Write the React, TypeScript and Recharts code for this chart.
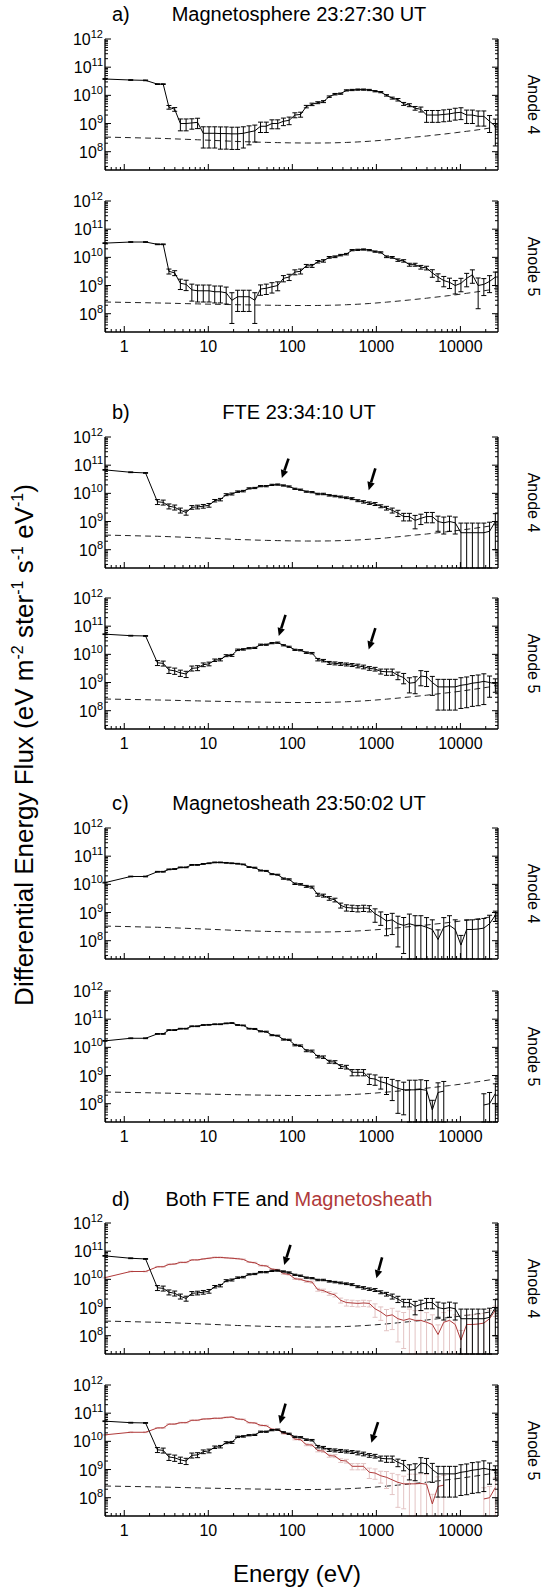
import React from 'react';
import { LineChart, Line, XAxis, YAxis, ErrorBar, ReferenceLine } from 'recharts';

// Cassini CAPS ELS energy channels (eV)
const energy = [
  0.59, 1.194, 1.793, 2.483, 2.906, 3.402, 3.98, 4.655, 5.444, 6.372,
  7.453, 8.715, 10.2, 11.93, 13.95, 16.32, 19.09, 22.34, 26.13, 30.57,
  35.76, 41.83, 48.94, 57.25, 66.97, 78.34, 91.64, 107.2, 125.4, 146.7,
  171.6, 200.8, 234.9, 274.8, 321.5, 376, 439.9, 514.5, 602, 704.4,
  824.1, 964.2, 1128, 1319, 1544, 1805, 2112, 2471, 2890, 3383,
  3956, 4630, 5416, 6336, 7415, 8674, 10143, 11867, 13876, 16256,
  18991, 22227, 26040,
];

// a) magnetosphere
const fluxA4 = [
  3.8e10, 3.5e10, 3.4e10, 2.5e10, 2.5e10, 3.8e9, 3.2e9, 1.0e9, 1.0e9, 1.05e9,
  1.1e9, 4.5e8, 4.5e8, 4.5e8, 4.4e8, 4.4e8, 4.3e8, 4.3e8, 4.5e8, 5e8,
  5.5e8, 8e8, 8e8, 1e9, 1e9, 1.2e9, 1.3e9, 2e9, 2.1e9, 4e9,
  4.8e9, 5.5e9, 6e9, 9e9, 1.1e10, 1.15e10, 1.5e10, 1.55e10, 1.6e10, 1.6e10,
  1.55e10, 1.4e10, 1.3e10, 1e10, 8e9, 7e9, 5e9, 4.5e9, 3.5e9, 3.2e9,
  2e9, 2e9, 2e9, 2.1e9, 2.2e9, 2.4e9, 2.5e9, 2e9, 2e9, 1.8e9,
  1.8e9, 1.2e9, 8e8,
];
const errA4 = [
  0.03, 0.03, 0.03, 0.03, 0.03, 0.15, 0.15, 0.45, 0.45, 0.4,
  0.4, 0.7, 0.7, 0.7, 0.72, 0.72, 0.72, 0.72, 0.7, 0.65,
  0.6, 0.4, 0.4, 0.35, 0.35, 0.3, 0.3, 0.2, 0.2, 0.1,
  0.1, 0.08, 0.08, 0.06, 0.06, 0.05, 0.05, 0.05, 0.05, 0.05,
  0.05, 0.05, 0.05, 0.06, 0.08, 0.1, 0.12, 0.12, 0.15, 0.2,
  0.45, 0.45, 0.45, 0.45, 0.45, 0.45, 0.45, 0.5, 0.5, 0.55,
  0.55, 0.6, 0.8,
];
const fluxA5 = [
  3.2e10, 3.5e10, 3.5e10, 2.9e10, 2.9e10, 3.2e9, 2.8e9, 1.2e9, 1.1e9, 7e8,
  6.5e8, 6.5e8, 6.5e8, 6e8, 6e8, 5.5e8, 3e8, 4e8, 4e8, 4e8,
  3e8, 7.5e8, 8e8, 9e8, 1e9, 1.8e9, 2e9, 3e9, 3.2e9, 5e9,
  5e9, 7e9, 7.5e9, 1e10, 1.05e10, 1.2e10, 1.3e10, 1.8e10, 1.85e10, 1.9e10,
  1.8e10, 1.6e10, 1.5e10, 1.05e10, 1e10, 8e9, 7.5e9, 5.5e9, 5.5e9, 4.5e9,
  4.2e9, 2.8e9, 2e9, 1.5e9, 1.3e9, 1e9, 1.2e9, 1.8e9, 2.4e9, 1e9,
  1.1e9, 1.4e9, 2e9,
];
const errA5 = [
  0.03, 0.03, 0.03, 0.03, 0.03, 0.2, 0.2, 0.4, 0.4, 0.6,
  0.6, 0.6, 0.6, 0.6, 0.6, 0.6, 0.85, 0.7, 0.7, 0.7,
  0.85, 0.4, 0.4, 0.4, 0.35, 0.25, 0.25, 0.2, 0.2, 0.12,
  0.12, 0.1, 0.1, 0.07, 0.07, 0.06, 0.06, 0.05, 0.05, 0.05,
  0.05, 0.05, 0.05, 0.07, 0.07, 0.1, 0.1, 0.12, 0.12, 0.15,
  0.15, 0.3, 0.3, 0.4, 0.4, 0.5, 0.5, 0.5, 0.5, 0.85,
  0.6, 0.6, 0.5,
];

// b) FTE
const fluxB4 = [
  6.8e10, 5.6e10, 5.3e10, 5e9, 4.8e9, 3.5e9, 3.2e9, 2.5e9, 2.1e9, 3.2e9,
  3.3e9, 3.5e9, 3.8e9, 5.5e9, 6e9, 9e9, 9.5e9, 1.15e10, 1.2e10, 1.5e10,
  1.55e10, 1.8e10, 1.8e10, 2e10, 2.05e10, 1.9e10, 1.75e10, 1.45e10, 1.35e10, 1.15e10,
  1.1e10, 9.5e9, 9.5e9, 8.5e9, 8e9, 7.5e9, 7e9, 6.5e9, 5.5e9, 5e9,
  4.5e9, 4.2e9, 3.5e9, 3e9, 2.5e9, 2e9, 1.5e9, 1.5e9, 1.1e9, 1.3e9,
  1.5e9, 1.5e9, 1e9, 9e8, 1e9, 9e8, 4e8, 4e8, 4e8, 4e8,
  4e8, 4.5e8, 1e9,
];
const errB4 = [
  0.03, 0.03, 0.03, 0.2, 0.2, 0.2, 0.2, 0.2, 0.2, 0.15,
  0.15, 0.15, 0.15, 0.1, 0.1, 0.08, 0.08, 0.06, 0.06, 0.05,
  0.05, 0.05, 0.05, 0.05, 0.05, 0.05, 0.05, 0.05, 0.05, 0.05,
  0.05, 0.06, 0.06, 0.06, 0.06, 0.07, 0.07, 0.08, 0.08, 0.1,
  0.1, 0.12, 0.12, 0.15, 0.2, 0.25, 0.3, 0.3, 0.5, 0.4,
  0.4, 0.4, 0.55, 0.6, 0.55, 0.6, 1.2, 1.2, 1.2, 1.2,
  1.2, 1.1, 0.9,
];
const fluxB5 = [
  5.2e10, 4.6e10, 4.5e10, 5e9, 4.8e9, 2.8e9, 2.6e9, 2.2e9, 2e9, 3.2e9,
  3.3e9, 4.3e9, 4.6e9, 6.2e9, 6.5e9, 9e9, 9.2e9, 1.45e10, 1.5e10, 1.65e10,
  1.7e10, 2.2e10, 2.2e10, 2.5e10, 2.6e10, 2.1e10, 1.85e10, 1.45e10, 1.4e10, 1.15e10,
  1.1e10, 6.5e9, 6e9, 5e9, 4.8e9, 4.6e9, 4.4e9, 4.2e9, 3.9e9, 3.6e9,
  3.2e9, 3e9, 2.5e9, 2.4e9, 2.4e9, 1.8e9, 1.5e9, 9.5e8, 1e9, 1.7e9,
  1.6e9, 1e9, 7e8, 7e8, 7e8, 7e8, 8e8, 8.5e8, 9.5e8, 1e9,
  1.1e9, 1e9, 9e8,
];
const errB5 = [
  0.03, 0.03, 0.03, 0.2, 0.2, 0.25, 0.25, 0.25, 0.25, 0.2,
  0.2, 0.15, 0.15, 0.1, 0.1, 0.08, 0.08, 0.06, 0.06, 0.05,
  0.05, 0.05, 0.05, 0.05, 0.05, 0.05, 0.05, 0.05, 0.05, 0.06,
  0.06, 0.1, 0.1, 0.12, 0.12, 0.12, 0.12, 0.12, 0.15, 0.15,
  0.15, 0.15, 0.2, 0.25, 0.25, 0.3, 0.4, 0.55, 0.6, 0.55,
  0.55, 0.65, 0.85, 0.85, 0.85, 0.85, 0.85, 0.85, 0.85, 0.85,
  0.85, 0.7, 0.5,
];

// c) magnetosheath
const fluxC4 = [
  1.15e10, 1.9e10, 1.9e10, 2.8e10, 2.8e10, 3.4e10, 3.5e10, 4e10, 4e10, 4.9e10,
  4.9e10, 5.3e10, 5.6e10, 6e10, 6e10, 5.8e10, 5.6e10, 5.4e10, 5.1e10, 4.1e10,
  3.9e10, 3.1e10, 3e10, 2.3e10, 2.2e10, 1.6e10, 1.5e10, 1.05e10, 1e10, 8.5e9,
  8e9, 4.3e9, 4e9, 3.2e9, 2.8e9, 1.8e9, 1.5e9, 1.45e9, 1.4e9, 1.45e9,
  1.4e9, 9e8, 7e8, 5e8, 5.5e8, 4e8, 3.5e8, 4e8, 3.5e8, 3.5e8,
  3e8, 2.5e8, 1.1e8, 3e8, 3.5e8, 2.5e8, 7e7, 2.5e8, 2.5e8, 2.6e8,
  2.8e8, 4e8, 8e8,
];
const errC4 = [
  0.03, 0.03, 0.03, 0.03, 0.03, 0.03, 0.03, 0.03, 0.03, 0.03,
  0.03, 0.03, 0.03, 0.03, 0.03, 0.03, 0.03, 0.03, 0.03, 0.03,
  0.04, 0.04, 0.04, 0.04, 0.04, 0.05, 0.05, 0.06, 0.06, 0.08,
  0.08, 0.12, 0.12, 0.15, 0.15, 0.2, 0.25, 0.25, 0.25, 0.25,
  0.25, 0.5, 0.5, 0.7, 0.7, 0.85, 0.9, 1.2, 1.2, 1.2,
  1.2, 1.2, 1.2, 1.2, 1.2, 1.2, 1.2, 1.2, 1.2, 1.2,
  1.2, 1.0, 0.4,
];
const fluxC5 = [
  1.7e10, 2.1e10, 2.1e10, 3e10, 3e10, 4.1e10, 4.1e10, 4.6e10, 4.6e10, 5.6e10,
  5.6e10, 6.2e10, 6.3e10, 6.6e10, 6.6e10, 7.1e10, 7.3e10, 6.2e10, 6e10, 4.6e10,
  4.5e10, 3.7e10, 3.6e10, 2.7e10, 2.6e10, 1.9e10, 1.85e10, 1.2e10, 1.15e10, 7.6e9,
  7.4e9, 4.7e9, 4.5e9, 3.1e9, 3e9, 2.1e9, 2e9, 1.3e9, 1.3e9, 1.3e9,
  8e8, 7.5e8, 6e8, 5.3e8, 4.3e8, 3.5e8, 3.1e8, 3.1e8, 3.1e8, 3.2e8,
  3e8, 6e7, 2.5e8, 2.8e8, null, null, null, null, null, null,
  9e7, 1e8, 2.3e8,
];
const errC5 = [
  0.03, 0.03, 0.03, 0.03, 0.03, 0.03, 0.03, 0.03, 0.03, 0.03,
  0.03, 0.03, 0.03, 0.03, 0.03, 0.03, 0.03, 0.03, 0.03, 0.03,
  0.04, 0.04, 0.04, 0.04, 0.04, 0.05, 0.05, 0.06, 0.06, 0.08,
  0.08, 0.1, 0.1, 0.12, 0.12, 0.15, 0.15, 0.25, 0.25, 0.25,
  0.4, 0.4, 0.45, 0.6, 0.7, 0.87, 0.87, 1.2, 1.2, 1.2,
  1.2, 1.2, 1.2, 1.2, 0, 0, 0, 0, 0, 0,
  1.5, 1.5, 1.2,
];

// one-count levels
const oneCount4 = [
  3.3e8, 3.15e8, 3.05e8, 3.0e8, 2.95e8, 2.9e8, 2.85e8, 2.8e8, 2.75e8, 2.7e8,
  2.65e8, 2.6e8, 2.55e8, 2.5e8, 2.45e8, 2.4e8, 2.35e8, 2.3e8, 2.27e8, 2.24e8,
  2.2e8, 2.17e8, 2.14e8, 2.12e8, 2.1e8, 2.08e8, 2.06e8, 2.05e8, 2.04e8, 2.03e8,
  2.03e8, 2.03e8, 2.04e8, 2.05e8, 2.07e8, 2.1e8, 2.13e8, 2.17e8, 2.22e8, 2.28e8,
  2.35e8, 2.43e8, 2.52e8, 2.62e8, 2.74e8, 2.87e8, 3.0e8, 3.15e8, 3.3e8, 3.45e8,
  3.6e8, 3.8e8, 4.0e8, 4.2e8, 4.45e8, 4.7e8, 5.0e8, 5.3e8, 5.6e8, 6.0e8,
  6.4e8, 6.9e8, 7.8e8,
];
const oneCount5 = [
  2.6e8, 2.5e8, 2.45e8, 2.4e8, 2.38e8, 2.36e8, 2.33e8, 2.3e8, 2.28e8, 2.25e8,
  2.23e8, 2.2e8, 2.18e8, 2.16e8, 2.14e8, 2.12e8, 2.1e8, 2.08e8, 2.06e8, 2.05e8,
  2.03e8, 2.02e8, 2.0e8, 1.99e8, 1.98e8, 1.97e8, 1.96e8, 1.95e8, 1.95e8, 1.95e8,
  1.95e8, 1.96e8, 1.97e8, 1.99e8, 2.01e8, 2.04e8, 2.08e8, 2.12e8, 2.17e8, 2.23e8,
  2.3e8, 2.38e8, 2.47e8, 2.57e8, 2.68e8, 2.8e8, 2.93e8, 3.07e8, 3.22e8, 3.38e8,
  3.55e8, 3.75e8, 3.95e8, 4.17e8, 4.4e8, 4.65e8, 4.95e8, 5.3e8, 5.65e8, 6.05e8,
  6.5e8, 7e8, 7.8e8,
];

// arrows: [tailE, tailFlux, tipE, tipFlux]
const arrowsB4 = [[90, 1.7e11, 75, 3.5e10], [973, 7.7e10, 810, 1.3e10]];
const arrowsB5 = [[83, 2.5e11, 69, 4.5e10], [973, 8.5e10, 810, 1.5e10]];
const arrowsD4 = [[95, 1.66e11, 80, 3.2e10], [1170, 6e10, 1000, 1.1e10]];
const arrowsD5 = [[83, 2.2e11, 71, 4.2e10], [1047, 4.8e10, 871, 8.9e9]];

const xMajor = [1, 10, 100, 1000, 10000];
const yMajor = [1e8, 1e9, 1e10, 1e11, 1e12];
const minorMult = [2, 3, 4, 5, 6, 7, 8, 9];

const X_MIN = 0.59;
const X_MAX = 28000;
const Y_MIN = 2.24e7;
const Y_MAX = 1e12;

const xTicks = [...xMajor, ...[0.1, 1, 10, 100, 1000, 10000].flatMap((d) => minorMult.map((m) => d * m))]
  .filter((v) => v >= X_MIN && v <= X_MAX);
const yTicks = [...yMajor, ...[1e7, 1e8, 1e9, 1e10, 1e11].flatMap((d) => minorMult.map((m) => d * m))]
  .filter((v) => v >= Y_MIN && v <= Y_MAX);

const FONT = 'Liberation Sans, Arial, Helvetica, sans-serif';
const RED = '#b03a3a';

const isMajor = (v: number) => Math.abs(Math.log10(v) - Math.round(Math.log10(v))) < 1e-6;

function buildTable(
  flux: (number | null)[],
  err: number[],
  one: number[],
  red?: (number | null)[],
  redErr?: number[],
) {
  const bar = (v: number | null, rel: number) => {
    if (v == null || !rel) return undefined;
    const s = v * rel;
    return [v - Math.max(v - s, Y_MIN), Math.min(s, Y_MAX - v)];
  };
  return energy.map((e, i) => ({
    e,
    v: flux[i],
    err: bar(flux[i], err[i]),
    one: one[i],
    r: red ? red[i] : null,
    rerr: red && redErr ? bar(red[i], redErr[i]) : undefined,
  }));
}

const Arrow = (p: any) => {
  const { x1, y1, x2, y2 } = p;
  const dx = x2 - x1;
  const dy = y2 - y1;
  const len = Math.hypot(dx, dy) || 1;
  const ux = dx / len;
  const uy = dy / len;
  const hl = 8;
  const hw = 3.8;
  const bx = x2 - ux * hl;
  const by = y2 - uy * hl;
  return (
    <g>
      <line x1={x1} y1={y1} x2={bx} y2={by} stroke="#000" strokeWidth={2.6} />
      <polygon
        points={`${x2},${y2} ${bx - uy * hw},${by + ux * hw} ${bx + uy * hw},${by - ux * hw}`}
        fill="#000"
      />
    </g>
  );
};

const xTick = (side: 'top' | 'bottom', labels: boolean) => (p: any) => {
  const v = p.payload.value;
  const major = isMajor(v);
  const len = major ? 6 : 3;
  const dir = side === 'bottom' ? -1 : 1;
  return (
    <g>
      <line x1={p.x} x2={p.x} y1={p.y} y2={p.y + dir * len} stroke="#000" strokeWidth={1} />
      {labels && major && side === 'bottom' && (
        <text x={p.x} y={p.y + 20} textAnchor="middle" fontSize={16} fontFamily={FONT} fill="#000">
          {String(Math.round(v))}
        </text>
      )}
    </g>
  );
};

const yTick = (side: 'left' | 'right') => (p: any) => {
  const v = p.payload.value;
  const major = isMajor(v);
  const len = major ? 6 : 3;
  const dir = side === 'left' ? 1 : -1;
  return (
    <g>
      <line x1={p.x} x2={p.x + dir * len} y1={p.y} y2={p.y} stroke="#000" strokeWidth={1} />
      {major && side === 'left' && (
        <text x={p.x - 2} y={p.y + 6} textAnchor="end" fontFamily={FONT} fill="#000">
          <tspan fontSize={16}>10</tspan>
          <tspan fontSize={11} dy={-7}>{String(Math.round(Math.log10(v)))}</tspan>
        </text>
      )}
    </g>
  );
};

type PanelProps = {
  top: number;
  table: any[];
  showX: boolean;
  arrows?: number[][];
  hasRed?: boolean;
};

function Panel({ top, table, showX, arrows = [], hasRed = false }: PanelProps) {
  const axisLine = { stroke: '#000', strokeWidth: 1.3 };
  return (
    <div style={{ position: 'absolute', left: 0, top: top - 10, width: 547, height: 171 }}>
      <LineChart width={547} height={171} data={table} margin={{ top: 10, right: 0, bottom: 0, left: 0 }}>
        <XAxis
          xAxisId="b"
          dataKey="e"
          type="number"
          scale="log"
          domain={[X_MIN, X_MAX]}
          allowDataOverflow
          ticks={xTicks}
          interval={0}
          tickLine={false}
          tickSize={0}
          tickMargin={0}
          height={30}
          axisLine={axisLine}
          tick={xTick('bottom', showX)}
        />
        <XAxis
          xAxisId="t"
          orientation="top"
          dataKey="e"
          type="number"
          scale="log"
          domain={[X_MIN, X_MAX]}
          allowDataOverflow
          ticks={xTicks}
          interval={0}
          tickLine={false}
          tickSize={0}
          tickMargin={0}
          height={0}
          axisLine={axisLine}
          tick={xTick('top', false)}
        />
        <YAxis
          yAxisId="l"
          type="number"
          scale="log"
          domain={[Y_MIN, Y_MAX]}
          allowDataOverflow
          ticks={yTicks}
          interval={0}
          tickLine={false}
          tickSize={0}
          tickMargin={0}
          width={105}
          axisLine={axisLine}
          tick={yTick('left')}
        />
        <YAxis
          yAxisId="r"
          orientation="right"
          type="number"
          scale="log"
          domain={[Y_MIN, Y_MAX]}
          allowDataOverflow
          ticks={yTicks}
          interval={0}
          tickLine={false}
          tickSize={0}
          tickMargin={0}
          width={49}
          axisLine={axisLine}
          tick={yTick('right')}
        />
        <Line
          xAxisId="b"
          yAxisId="l"
          dataKey="one"
          stroke="#222"
          strokeWidth={1}
          strokeDasharray="6 4"
          dot={false}
          activeDot={false}
          isAnimationActive={false}
        />
        {hasRed && (
          <Line
            xAxisId="b"
            yAxisId="l"
            dataKey="r"
            stroke={RED}
            strokeWidth={1}
            dot={false}
            activeDot={false}
            connectNulls={false}
            isAnimationActive={false}
          >
            <ErrorBar dataKey="rerr" width={2.5} stroke="#e3c4c4" strokeWidth={1} direction="y" isAnimationActive={false} />
          </Line>
        )}
        <Line
          xAxisId="b"
          yAxisId="l"
          dataKey="v"
          stroke="#000"
          strokeWidth={1}
          dot={false}
          activeDot={false}
          connectNulls={false}
          isAnimationActive={false}
        >
          <ErrorBar dataKey="err" width={2.5} stroke="#000" strokeWidth={1} direction="y" isAnimationActive={false} />
        </Line>
        {arrows.map((a, i) => (
          <ReferenceLine
            key={i}
            xAxisId="b"
            yAxisId="l"
            segment={[{ x: a[0], y: a[1] }, { x: a[2], y: a[3] }]}
            ifOverflow="visible"
            shape={Arrow}
          />
        ))}
      </LineChart>
    </div>
  );
}

const tableA4 = buildTable(fluxA4, errA4, oneCount4);
const tableA5 = buildTable(fluxA5, errA5, oneCount5);
const tableB4 = buildTable(fluxB4, errB4, oneCount4);
const tableB5 = buildTable(fluxB5, errB5, oneCount5);
const tableC4 = buildTable(fluxC4, errC4, oneCount4);
const tableC5 = buildTable(fluxC5, errC5, oneCount5);
const tableD4 = buildTable(fluxB4, errB4, oneCount4, fluxC4, errC4);
const tableD5 = buildTable(fluxB5, errB5, oneCount5, fluxC5, errC5);

const panels = [
  { top: 39, table: tableA4, showX: false, anode: 'Anode 4' },
  { top: 201, table: tableA5, showX: true, anode: 'Anode 5' },
  { top: 437, table: tableB4, showX: false, anode: 'Anode 4', arrows: arrowsB4 },
  { top: 598, table: tableB5, showX: true, anode: 'Anode 5', arrows: arrowsB5 },
  { top: 828, table: tableC4, showX: false, anode: 'Anode 4' },
  { top: 991, table: tableC5, showX: true, anode: 'Anode 5' },
  { top: 1223, table: tableD4, showX: false, anode: 'Anode 4', arrows: arrowsD4, hasRed: true },
  { top: 1385, table: tableD5, showX: true, anode: 'Anode 5', arrows: arrowsD5, hasRed: true },
];

const titles = [
  { y: 21, tag: 'a)', text: 'Magnetosphere 23:27:30 UT' },
  { y: 419, tag: 'b)', text: 'FTE 23:34:10 UT' },
  { y: 810, tag: 'c)', text: 'Magnetosheath 23:50:02 UT' },
  { y: 1206, tag: 'd)', text: '' },
];

export default function App() {
  return (
    <div style={{ position: 'absolute', left: 0, top: 0, width: 547, height: 1592, background: '#fff' }}>
      {panels.map((p, i) => (
        <Panel key={i} top={p.top} table={p.table} showX={p.showX} arrows={p.arrows} hasRed={p.hasRed} />
      ))}
      <svg
        width={547}
        height={1592}
        style={{ position: 'absolute', left: 0, top: 0, pointerEvents: 'none' }}
        fontFamily={FONT}
      >
        {titles.map((t) => (
          <g key={t.tag}>
            <text x={112} y={t.y} fontSize={20} fill="#000">{t.tag}</text>
            <text x={299} y={t.y} fontSize={20} fill="#000" textAnchor="middle">
              {t.text ? (
                t.text
              ) : (
                <>
                  <tspan>Both FTE and </tspan>
                  <tspan fill={RED}>Magnetosheath</tspan>
                </>
              )}
            </text>
          </g>
        ))}
        {panels.map((p, i) => (
          <text
            key={i}
            x={528}
            y={p.top + 65.5}
            fontSize={16}
            fill="#000"
            textAnchor="middle"
            transform={`rotate(90 528 ${p.top + 65.5})`}
          >
            {p.anode}
          </text>
        ))}
        <text x={33} y={745} fontSize={26} fill="#000" textAnchor="middle" transform="rotate(-90 33 745)">
          <tspan>Differential Energy Flux (eV m</tspan>
          <tspan fontSize={16} dy={-10}>-2</tspan>
          <tspan dy={10}> ster</tspan>
          <tspan fontSize={16} dy={-10}>-1</tspan>
          <tspan dy={10}> s</tspan>
          <tspan fontSize={16} dy={-10}>-1</tspan>
          <tspan dy={10}> eV</tspan>
          <tspan fontSize={16} dy={-10}>-1</tspan>
          <tspan dy={10}>)</tspan>
        </text>
        <text x={297} y={1582} fontSize={24} fill="#000" textAnchor="middle">Energy (eV)</text>
      </svg>
    </div>
  );
}
